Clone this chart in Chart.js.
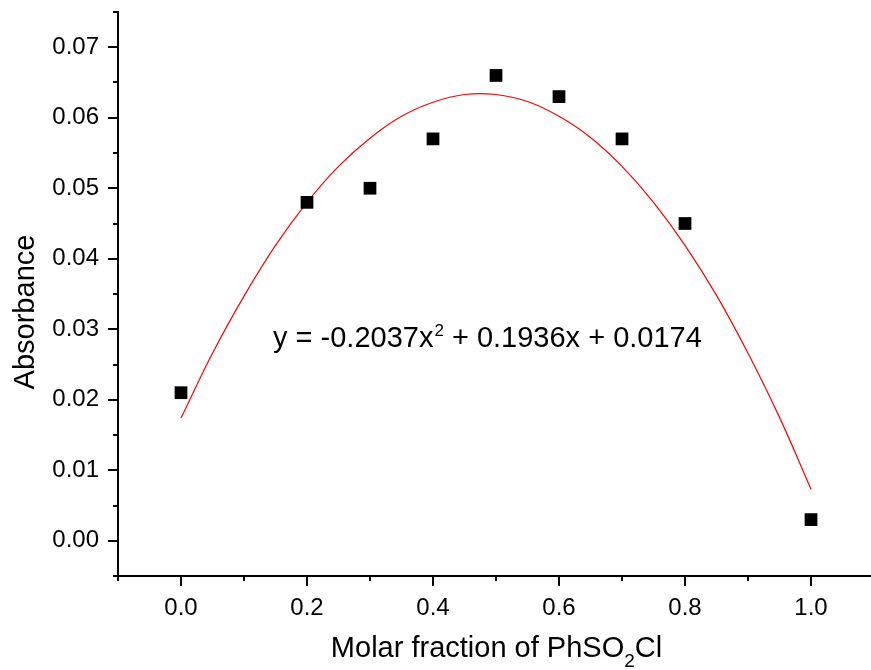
<!DOCTYPE html>
<html>
<head>
<meta charset="utf-8">
<script src="https://cdn.jsdelivr.net/npm/chart.js@4.4.1/dist/chart.umd.min.js"></script>
<style>
html,body{margin:0;padding:0;background:#fff;overflow:hidden;}
canvas{display:block;}
</style>
</head>
<body>
<canvas id="c" width="871" height="670"></canvas>
<script>
// Measured points
const molarFraction = [0.0, 0.2, 0.3, 0.4, 0.5, 0.6, 0.7, 0.8, 1.0];
const absorbance    = [0.021, 0.048, 0.050, 0.057, 0.066, 0.063, 0.057, 0.045, 0.003];

// Fitted curve
const fitX = [0.00,0.05,0.10,0.15,0.20,0.25,0.30,0.35,0.40,0.45,0.50,0.55,0.60,0.65,0.70,0.75,0.80,0.85,0.90,0.95,1.00];
const fitY = [0.0174,0.0266,0.0347,0.0419,0.0480,0.0531,0.0571,0.0602,0.0622,0.0633,0.0633,0.0623,0.0602,0.0572,0.0531,0.0480,0.0419,0.0348,0.0266,0.0175,0.0073];

// Tick labels
const xTicks = [0.0, 0.2, 0.4, 0.6, 0.8, 1.0];
const xMinorTicks = [-0.1, 0.1, 0.3, 0.5, 0.7, 0.9];
const yTicks = [0.00, 0.01, 0.02, 0.03, 0.04, 0.05, 0.06, 0.07];
const yMinorTicks = [-0.005, 0.005, 0.015, 0.025, 0.035, 0.045, 0.055, 0.065, 0.075];

const xTitleMain = 'Molar fraction of PhSO';
const xTitleSub = '2';
const xTitleEnd = 'Cl';
const yTitle = 'Absorbance';
const eqParts = ['y = -0.2037x', '2', ' + 0.1936x + 0.0174'];

const FONT = '"Liberation Sans", Arial, sans-serif';

function zeroPad(s) { s.paddingTop = 0; s.paddingBottom = 0; s.paddingLeft = 0; s.paddingRight = 0; }

const decorPlugin = {
  id: 'decor',
  afterDraw(chart) {
    const ctx = chart.ctx;
    const xs = chart.scales.x, ys = chart.scales.y;
    const ca = chart.chartArea;
    ctx.save();
    ctx.strokeStyle = '#000';
    ctx.lineWidth = 2;
    ctx.beginPath();
    xTicks.forEach(v => { const px = Math.round(xs.getPixelForValue(v)); ctx.moveTo(px, ca.bottom); ctx.lineTo(px, ca.bottom + 10); });
    yTicks.forEach(v => { const py = Math.round(ys.getPixelForValue(v)); ctx.moveTo(ca.left, py); ctx.lineTo(ca.left - 10, py); });
    xMinorTicks.forEach(v => { const px = Math.round(xs.getPixelForValue(v)); ctx.moveTo(px, ca.bottom); ctx.lineTo(px, ca.bottom + 5); });
    yMinorTicks.forEach(v => { const py = Math.round(ys.getPixelForValue(v)); ctx.moveTo(ca.left, py); ctx.lineTo(ca.left - 5, py); });
    ctx.stroke();

    ctx.fillStyle = '#000';
    ctx.textBaseline = 'alphabetic';
    ctx.textAlign = 'left';
    const mainF = '29px ' + FONT, subF = '19px ' + FONT;
    ctx.font = mainF; const w1 = ctx.measureText(xTitleMain).width; const w3 = ctx.measureText(xTitleEnd).width;
    ctx.font = subF; const w2 = ctx.measureText(xTitleSub).width;
    let x0 = (ca.left + ca.right) / 2 - (w1 + w2 + w3) / 2 + 2;
    const by = 657;
    ctx.font = mainF; ctx.fillText(xTitleMain, x0, by);
    ctx.font = subF; ctx.fillText(xTitleSub, x0 + w1, by + 10);
    ctx.font = mainF; ctx.fillText(xTitleEnd, x0 + w1 + w2, by);

    ctx.save();
    ctx.translate(34, 312);
    ctx.rotate(-Math.PI / 2);
    ctx.font = mainF;
    ctx.textAlign = 'center';
    ctx.fillText(yTitle, 0, 0);
    ctx.restore();

    const eqF = '29px ' + FONT, supF = '17px ' + FONT;
    let ex = 273; const ey = 347;
    ctx.font = eqF; ctx.fillText(eqParts[0], ex, ey); ex += ctx.measureText(eqParts[0]).width;
    ctx.font = supF; ctx.fillText(eqParts[1], ex + 1, ey - 11); ex += ctx.measureText(eqParts[1]).width + 1;
    ctx.font = eqF; ctx.fillText(eqParts[2], ex, ey);
    ctx.restore();
  }
};

new Chart(document.getElementById('c'), {
  type: 'scatter',
  data: {
    datasets: [
      {
        label: 'data',
        data: molarFraction.map((x, i) => ({x, y: absorbance[i]})),
        pointStyle: 'rect',
        pointRadius: 9,
        pointHoverRadius: 9,
        backgroundColor: '#000',
        borderColor: '#000',
        borderWidth: 0,
        showLine: false,
        order: 0
      },
      {
        label: 'fit',
        data: fitX.map((x, i) => ({x, y: fitY[i]})),
        showLine: true,
        borderColor: '#ff0000',
        borderWidth: 1.2,
        pointRadius: 0,
        tension: 0.4,
        fill: false,
        order: 1
      }
    ]
  },
  options: {
    responsive: false,
    animation: false,
    events: [],
    layout: { autoPadding: false, padding: { top: 12, left: 0, right: 0, bottom: 0 } },
    plugins: { legend: { display: false }, tooltip: { enabled: false } },
    scales: {
      x: {
        type: 'linear',
        position: 'bottom',
        min: -0.1,
        max: 1.0952,
        grid: { display: false, drawTicks: false },
        border: { display: true, color: '#000', width: 2 },
        afterBuildTicks: s => { s.ticks = xTicks.map(v => ({value: v})); },
        afterFit: s => { s.height = 94; zeroPad(s); },
        ticks: {
          autoSkip: false,
          maxRotation: 0,
          padding: 18,
          color: '#000',
          font: { family: FONT, size: 24 },
          callback: v => Number(v).toFixed(1)
        }
      },
      y: {
        type: 'linear',
        min: -0.005,
        max: 0.075,
        grid: { display: false, drawTicks: false },
        border: { display: true, color: '#000', width: 2 },
        afterBuildTicks: s => { s.ticks = yTicks.map(v => ({value: v})); },
        afterFit: s => { s.width = 118; zeroPad(s); },
        ticks: {
          autoSkip: false,
          padding: 19,
          color: '#000',
          font: { family: FONT, size: 24 },
          callback: v => Number(v).toFixed(2)
        }
      }
    }
  },
  plugins: [decorPlugin]
});
</script>
</body>
</html>
